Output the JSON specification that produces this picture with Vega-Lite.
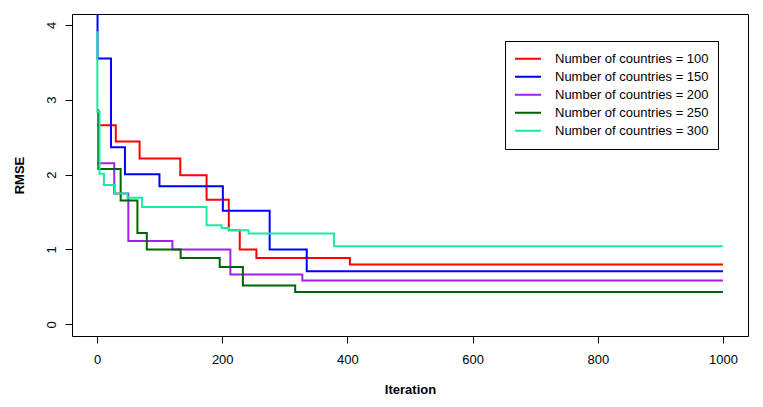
{
  "$schema": "https://vega.github.io/schema/vega-lite/v6.json",
  "width": 676,
  "height": 322,
  "autosize": {"type": "none"},
  "padding": {"left": 72, "top": 14, "right": 15, "bottom": 71},
  "background": "white",
  "config": {
    "view": {"stroke": "#000000", "strokeWidth": 1},
    "font": "Liberation Sans",
    "axis": {
      "grid": false,
      "domain": false,
      "tickColor": "#000000",
      "tickSize": 7,
      "tickWidth": 1,
      "labelFont": "Liberation Sans",
      "labelFontSize": 13,
      "labelColor": "#000000",
      "titleFont": "Liberation Sans",
      "titleFontSize": 13,
      "titleFontWeight": "bold",
      "titleColor": "#000000"
    }
  },
  "data": {
    "values": [
      {"iteration": 0, "rmse": 2.66, "series": "Number of countries = 100"},
      {"iteration": 30, "rmse": 2.44, "series": "Number of countries = 100"},
      {"iteration": 68, "rmse": 2.215, "series": "Number of countries = 100"},
      {"iteration": 133, "rmse": 1.99, "series": "Number of countries = 100"},
      {"iteration": 175, "rmse": 1.665, "series": "Number of countries = 100"},
      {"iteration": 210.5, "rmse": 1.257, "series": "Number of countries = 100"},
      {"iteration": 228, "rmse": 1.0, "series": "Number of countries = 100"},
      {"iteration": 254.6, "rmse": 0.884, "series": "Number of countries = 100"},
      {"iteration": 404, "rmse": 0.798, "series": "Number of countries = 100"},
      {"iteration": 1000, "rmse": 0.798, "series": "Number of countries = 100"},

      {"iteration": 0, "rmse": 4.5, "series": "Number of countries = 150"},
      {"iteration": 0.8, "rmse": 3.55, "series": "Number of countries = 150"},
      {"iteration": 22.3, "rmse": 2.365, "series": "Number of countries = 150"},
      {"iteration": 44.6, "rmse": 2.005, "series": "Number of countries = 150"},
      {"iteration": 99.7, "rmse": 1.843, "series": "Number of countries = 150"},
      {"iteration": 201, "rmse": 1.518, "series": "Number of countries = 150"},
      {"iteration": 275.8, "rmse": 1.0, "series": "Number of countries = 150"},
      {"iteration": 335, "rmse": 0.709, "series": "Number of countries = 150"},
      {"iteration": 1000, "rmse": 0.709, "series": "Number of countries = 150"},

      {"iteration": 0, "rmse": 2.15, "series": "Number of countries = 200"},
      {"iteration": 27.5, "rmse": 1.747, "series": "Number of countries = 200"},
      {"iteration": 50, "rmse": 1.114, "series": "Number of countries = 200"},
      {"iteration": 120.4, "rmse": 0.998, "series": "Number of countries = 200"},
      {"iteration": 213, "rmse": 0.664, "series": "Number of countries = 200"},
      {"iteration": 328, "rmse": 0.584, "series": "Number of countries = 200"},
      {"iteration": 1000, "rmse": 0.584, "series": "Number of countries = 200"},

      {"iteration": 0, "rmse": 2.86, "series": "Number of countries = 250"},
      {"iteration": 2, "rmse": 2.075, "series": "Number of countries = 250"},
      {"iteration": 37.7, "rmse": 1.655, "series": "Number of countries = 250"},
      {"iteration": 64.5, "rmse": 1.22, "series": "Number of countries = 250"},
      {"iteration": 79.5, "rmse": 1.0, "series": "Number of countries = 250"},
      {"iteration": 133.6, "rmse": 0.887, "series": "Number of countries = 250"},
      {"iteration": 196, "rmse": 0.766, "series": "Number of countries = 250"},
      {"iteration": 233, "rmse": 0.52, "series": "Number of countries = 250"},
      {"iteration": 316.6, "rmse": 0.43, "series": "Number of countries = 250"},
      {"iteration": 1000, "rmse": 0.43, "series": "Number of countries = 250"},

      {"iteration": 0, "rmse": 3.9, "series": "Number of countries = 300"},
      {"iteration": 0.5, "rmse": 2.84, "series": "Number of countries = 300"},
      {"iteration": 4, "rmse": 2.01, "series": "Number of countries = 300"},
      {"iteration": 11, "rmse": 1.86, "series": "Number of countries = 300"},
      {"iteration": 28.6, "rmse": 1.747, "series": "Number of countries = 300"},
      {"iteration": 48.5, "rmse": 1.69, "series": "Number of countries = 300"},
      {"iteration": 72, "rmse": 1.568, "series": "Number of countries = 300"},
      {"iteration": 175, "rmse": 1.324, "series": "Number of countries = 300"},
      {"iteration": 199, "rmse": 1.285, "series": "Number of countries = 300"},
      {"iteration": 210.5, "rmse": 1.257, "series": "Number of countries = 300"},
      {"iteration": 242, "rmse": 1.212, "series": "Number of countries = 300"},
      {"iteration": 378.7, "rmse": 1.043, "series": "Number of countries = 300"},
      {"iteration": 1000, "rmse": 1.043, "series": "Number of countries = 300"}
    ]
  },
  "mark": {"type": "line", "interpolate": "step-after", "strokeWidth": 2, "clip": true},
  "encoding": {
    "x": {
      "field": "iteration",
      "type": "quantitative",
      "scale": {"domain": [-40, 1040], "nice": false, "zero": false},
      "axis": {
        "title": "Iteration",
        "values": [0, 200, 400, 600, 800, 1000],
        "format": "d",
        "labelPadding": 10,
        "titlePadding": 17
      }
    },
    "y": {
      "field": "rmse",
      "type": "quantitative",
      "scale": {"domain": [-0.156, 4.144], "nice": false, "zero": false},
      "axis": {
        "title": "RMSE",
        "values": [0, 1, 2, 3, 4],
        "labelAngle": -90,
        "labelAlign": "center",
        "labelBaseline": "bottom",
        "labelPadding": 7,
        "titlePadding": 19
      }
    },
    "color": {
      "field": "series",
      "type": "nominal",
      "scale": {
        "domain": ["Number of countries = 100", "Number of countries = 150", "Number of countries = 200", "Number of countries = 250", "Number of countries = 300"],
        "range": ["#FF0000", "#0000FF", "#A020F0", "#006400", "#1DE9A6"]
      },
      "legend": {
        "title": null,
        "orient": "none",
        "legendX": 433,
        "legendY": 27,
        "symbolType": "stroke",
        "symbolSize": 676,
        "symbolStrokeWidth": 2,
        "clipHeight": 17.5,
        "rowPadding": 0,
        "labelFont": "Liberation Sans",
        "labelFontSize": 13,
        "labelColor": "#000000",
        "labelOffset": 13,
        "padding": 9,
        "strokeColor": "#000000",
        "fillColor": "#FFFFFF",
        "cornerRadius": 0
      }
    }
  }
}
